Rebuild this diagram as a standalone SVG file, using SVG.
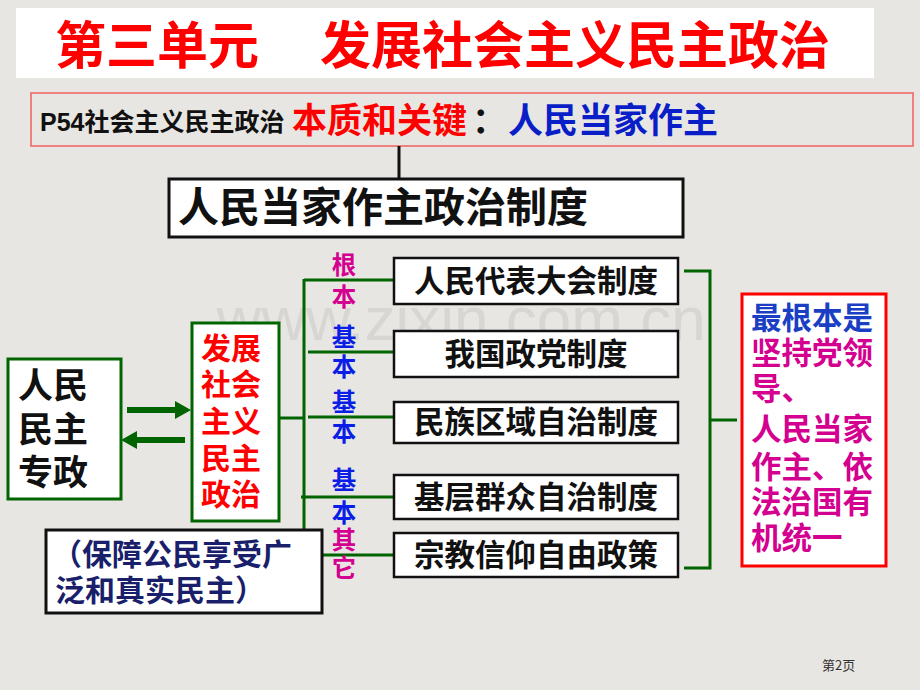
<svg xmlns="http://www.w3.org/2000/svg" width="920" height="690" viewBox="0 0 920 690">
<style>
text{font-family:"Liberation Sans","Noto Sans CJK SC",sans-serif;font-weight:bold}
.cjk{font-family:"Noto Sans CJK SC",sans-serif;font-weight:bold}
.g{stroke:#006400;fill:none;stroke-width:3}
.box{fill:#fff;stroke:#111;stroke-width:2.5}
.bt{font-size:30.5px;fill:#111;text-anchor:middle}
.vl{font-size:24.5px;text-anchor:middle}
.mag{fill:#D4008F}
.blu{fill:#0A1EE6}
</style>
<rect width="920" height="690" fill="#E8E6E3"/>
<text x="461" y="340" font-size="62" fill="#D8D6D3" text-anchor="middle" style="font-weight:normal">www.zixin.com.cn</text>
<g id="title">
<rect x="16" y="8" width="858" height="70" fill="#fff"/>
<text class="cjk" x="55" y="64" font-size="51" fill="#FF0000">第三单元</text>
<text class="cjk" x="320" y="64" font-size="51" fill="#FF0000">发展社会主义民主政治</text>
</g>
<g id="essence">
<rect x="31" y="93" width="882" height="53" fill="none" stroke="#F06060" stroke-width="1.5"/>
<text x="40" y="131" font-size="25" fill="#111">P54<tspan class="cjk">社会主义民主政治</tspan></text>
<text class="cjk" x="292" y="133" font-size="35" fill="#FF0000">本质和关键</text>
<text class="cjk" x="472" y="133" font-size="35" fill="#111">：</text>
<text class="cjk" x="508" y="133" font-size="35" fill="#0A1EC8">人民当家作主</text>
</g>
<g id="connectors">
<line x1="399" y1="146" x2="399" y2="178" stroke="#111" stroke-width="3"/>
<path d="M127,407 L175,407 L175,401 L191,410 L175,419 L175,413 L127,413 Z" fill="#006400"/>
<path d="M185,437 L137,437 L137,431 L121,440 L137,449 L137,443 L185,443 Z" fill="#006400"/>
<line class="g" x1="279" y1="418" x2="304" y2="418"/>
<line class="g" x1="304" y1="279" x2="304" y2="555"/>
<line class="g" x1="304" y1="280" x2="394" y2="280"/>
<line class="g" x1="308" y1="352" x2="394" y2="352"/>
<line class="g" x1="308" y1="417" x2="394" y2="417"/>
<line class="g" x1="301" y1="497" x2="394" y2="497"/>
<line class="g" x1="304" y1="555" x2="394" y2="555"/>
<polyline class="g" points="684,271 710,271 710,568 684,568" stroke-width="3.5"/>
<line class="g" x1="710" y1="420" x2="737" y2="420" stroke-width="3.5"/>
</g>
<g id="labels">
<text class="cjk vl mag" x="344" y="274">根</text>
<text class="cjk vl mag" x="344" y="306">本</text>
<text class="cjk vl blu" x="344" y="346">基</text>
<text class="cjk vl blu" x="344" y="376">本</text>
<text class="cjk vl blu" x="344" y="411">基</text>
<text class="cjk vl blu" x="344" y="441">本</text>
<text class="cjk vl blu" x="344" y="489">基</text>
<text class="cjk vl blu" x="344" y="522">本</text>
<text class="cjk vl mag" x="344" y="549">其</text>
<text class="cjk vl mag" x="344" y="577">它</text>
</g>
<g id="system">
<rect x="169" y="179" width="514" height="58" fill="#fff" stroke="#111" stroke-width="3"/>
<text class="cjk" x="178" y="222" font-size="41" fill="#111">人民当家作主政治制度</text>
</g>
<g id="dictatorship">
<rect x="8" y="359" width="113" height="140" fill="#fff" stroke="#006400" stroke-width="3"/>
<text class="cjk" x="18" y="398" font-size="35" fill="#111">人民</text>
<text class="cjk" x="18" y="442" font-size="35" fill="#111">民主</text>
<text class="cjk" x="18" y="485" font-size="35" fill="#111">专政</text>
</g>
<g id="develop">
<rect x="192" y="323" width="87" height="198" fill="#fff" stroke="#006400" stroke-width="3"/>
<text class="cjk" x="201" y="359" font-size="30" fill="#FF0000">发展</text>
<text class="cjk" x="201" y="395" font-size="30" fill="#FF0000">社会</text>
<text class="cjk" x="201" y="432" font-size="30" fill="#FF0000">主义</text>
<text class="cjk" x="201" y="469" font-size="30" fill="#FF0000">民主</text>
<text class="cjk" x="201" y="505" font-size="30" fill="#FF0000">政治</text>
</g>
<g id="guarantee">
<rect x="46" y="530" width="276" height="83" fill="#fff" stroke="#111" stroke-width="3"/>
<text class="cjk" x="52" y="565" font-size="30" fill="#1A1F6B">（保障公民享受广</text>
<text class="cjk" x="55" y="601" font-size="30" fill="#1A1F6B">泛和真实民主）</text>
</g>
<g id="box1"><rect class="box" x="394" y="258" width="284" height="46"/><text class="cjk bt" x="536" y="292">人民代表大会制度</text></g>
<g id="box2"><rect class="box" x="394" y="331" width="284" height="46"/><text class="cjk bt" x="536" y="365">我国政党制度</text></g>
<g id="box3"><rect class="box" x="394" y="402" width="284" height="41"/><text class="cjk bt" x="536" y="433">民族区域自治制度</text></g>
<g id="box4"><rect class="box" x="394" y="475" width="284" height="44"/><text class="cjk bt" x="536" y="508">基层群众自治制度</text></g>
<g id="box5"><rect class="box" x="394" y="533" width="284" height="44"/><text class="cjk bt" x="536" y="566">宗教信仰自由政策</text></g>
<g id="fundamental">
<rect x="742" y="294" width="144" height="272" fill="#fff" stroke="#FF0000" stroke-width="3"/>
<text class="cjk" x="751" y="329" font-size="30.5" fill="#1A3FC4">最根本是</text>
<text class="cjk mag" x="751" y="364" font-size="30.5">坚持党领</text>
<text class="cjk mag" x="751" y="400" font-size="30.5">导、</text>
<text class="cjk mag" x="751" y="440" font-size="30.5">人民当家</text>
<text class="cjk mag" x="751" y="478" font-size="30.5">作主、依</text>
<text class="cjk mag" x="751" y="513" font-size="30.5">法治国有</text>
<text class="cjk mag" x="751" y="549" font-size="30.5">机统一</text>
</g>
<text class="cjk" x="822" y="670" font-size="13" fill="#333" style="font-weight:normal">第2页</text>
</svg>
